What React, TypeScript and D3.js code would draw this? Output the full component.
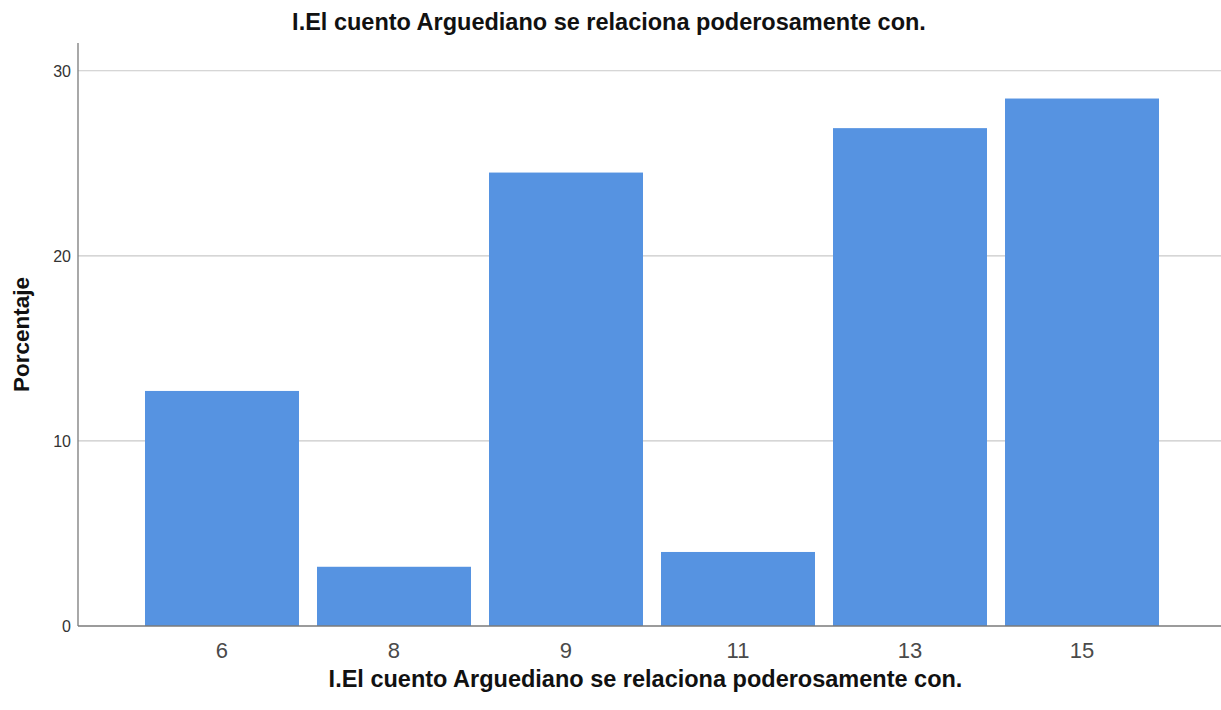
import React from "react";
import * as d3 from "d3";

const categories = ["6", "8", "9", "11", "13", "15"];
const percentages = [12.7, 3.2, 24.5, 4.0, 26.9, 28.5];
const yTicks = [0, 10, 20, 30];
const titleText = "I.El cuento Arguediano se relaciona poderosamente con.";
const xAxisTitle = "I.El cuento Arguediano se relaciona poderosamente con.";
const yAxisTitle = "Porcentaje";

const W = 1221;
const H = 710;
const plotLeft = 78;
const plotRight = 1221;
const plotTop = 43;
const plotBottom = 626;
const FONT = "'Liberation Sans', Arial, Helvetica, sans-serif";

export default function App() {
  const x = d3
    .scaleBand<string>()
    .domain(categories)
    .range([136, 1168])
    .paddingInner(0.1047)
    .paddingOuter(0.0523);
  const y = d3.scaleLinear().domain([0, 31.5]).range([plotBottom, plotTop]);

  return (
    <svg
      width={W}
      height={H}
      style={{ position: "absolute", left: 0, top: 0, background: "#fff" }}
      fontFamily={FONT}
    >
      <rect x={0} y={0} width={W} height={H} fill="#ffffff" />
      {yTicks
        .filter((t) => t > 0)
        .map((t) => (
          <line
            key={"g" + t}
            x1={plotLeft}
            x2={plotRight}
            y1={y(t)}
            y2={y(t)}
            stroke="#c9c9c9"
            strokeWidth={1.2}
          />
        ))}
      {categories.map((c, i) => (
        <rect
          key={c}
          x={x(c)}
          y={y(percentages[i])}
          width={x.bandwidth()}
          height={y(0) - y(percentages[i])}
          fill="#5693e1"
        />
      ))}
      <line x1={plotLeft} x2={plotLeft} y1={plotTop} y2={plotBottom} stroke="#7a7a7a" strokeWidth={1.3} />
      <line x1={plotLeft} x2={plotRight} y1={plotBottom} y2={plotBottom} stroke="#7a7a7a" strokeWidth={1.3} />
      {yTicks.map((t) => (
        <text
          key={"yt" + t}
          x={71}
          y={y(t)}
          dy="0.36em"
          textAnchor="end"
          fontSize={16}
          fill="#333"
        >
          {t}
        </text>
      ))}
      {categories.map((c) => (
        <text
          key={"xt" + c}
          x={(x(c) as number) + x.bandwidth() / 2}
          y={658}
          textAnchor="middle"
          fontSize={22}
          fill="#4a4a4a"
        >
          {c}
        </text>
      ))}
      <text x={609} y={30} textAnchor="middle" fontSize={23.5} fontWeight="bold" fill="#111">
        {titleText}
      </text>
      <text
        x={(plotLeft + plotRight) / 2 - 4}
        y={687}
        textAnchor="middle"
        fontSize={23.5}
        fontWeight="bold"
        fill="#111"
      >
        {xAxisTitle}
      </text>
      <text
        transform={`translate(29, ${(plotTop + plotBottom) / 2}) rotate(-90)`}
        textAnchor="middle"
        fontSize={22.5}
        fontWeight="bold"
        fill="#111"
      >
        {yAxisTitle}
      </text>
    </svg>
  );
}
